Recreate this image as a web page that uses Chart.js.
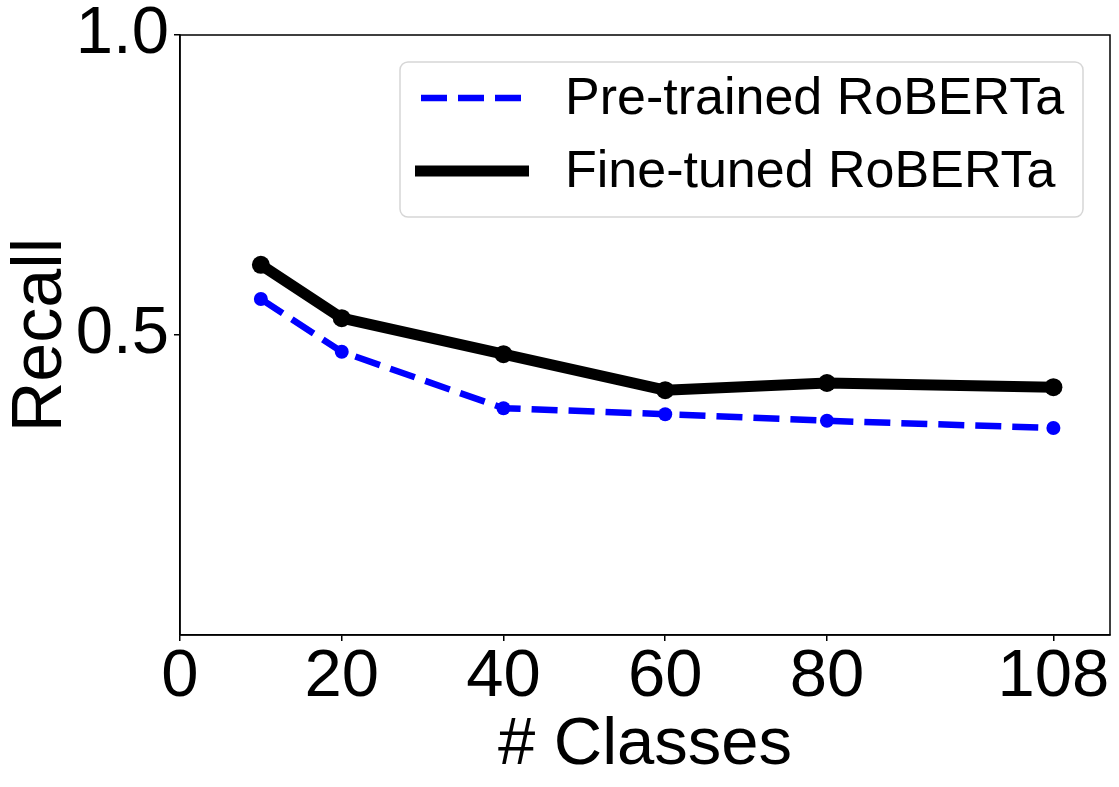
<!DOCTYPE html>
<html>
  <head>
    <script src="https://cdn.jsdelivr.net/npm/chart.js"></script>
    <style>
      body { margin: 0; background: white; }
      #wrap { width: 1119px; height: 787px; }
    </style>
  </head>

  <body>
    <div id="wrap"><canvas id="recall"></canvas></div>
  </body>

  <script>
    // values
    var classes = [10, 20, 40, 60, 80, 108];
    var pretrained = [0.56, 0.472, 0.378, 0.368, 0.357, 0.345];
    var finetuned = [0.617, 0.528, 0.468, 0.408, 0.42, 0.413];
    var x_ticks = [0, 20, 40, 60, 80, 108];
    var y_ticks = [0.5, 1.0];

    var font_family = "'Liberation Sans', Arial, sans-serif";

    function to_points(xs, ys) {
      return xs.map((x, i) => ({ x: x, y: ys[i] }));
    }

    // box around the plot (top and right spines)
    const frame = {
      id: "frame",
      afterDraw(chart) {
        const { ctx, chartArea: a } = chart;
        ctx.save();
        ctx.strokeStyle = "black";
        ctx.lineWidth = 1.5;
        ctx.strokeRect(a.left, a.top, a.right - a.left, a.bottom - a.top);
        ctx.restore();
      },
    };

    // matplotlib-like legend in the upper right
    const box_legend = {
      id: "box_legend",
      afterDraw(chart) {
        const ctx = chart.ctx;
        const x0 = 400, y0 = 62, w = 683, h = 155;
        ctx.save();
        ctx.beginPath();
        ctx.roundRect(x0, y0, w, h, 8);
        ctx.fillStyle = "rgba(255,255,255,0.8)";
        ctx.fill();
        ctx.strokeStyle = "#d6d6d6";
        ctx.lineWidth = 1.5;
        ctx.stroke();

        const rows = [98, 171];
        ctx.font = "52px " + font_family;
        ctx.textBaseline = "middle";
        chart.data.datasets.forEach((ds, i) => {
          const y = rows[i];
          ctx.beginPath();
          ctx.strokeStyle = ds.borderColor;
          ctx.lineWidth = ds.borderWidth;
          ctx.lineCap = "butt";
          ctx.setLineDash(ds.borderDash || []);
          if (ds.borderDash) {
            ctx.moveTo(421, y);
            ctx.lineTo(521, y);
          } else {
            ctx.moveTo(415, y);
            ctx.lineTo(529, y);
          }
          ctx.stroke();
          ctx.setLineDash([]);
          ctx.fillStyle = "black";
          ctx.fillText(ds.label, 565, y + 2);
        });
        ctx.restore();
      },
    };

    function no_pad(scale) {
      scale.paddingTop = 0;
      scale.paddingBottom = 0;
      scale.paddingLeft = 0;
      scale.paddingRight = 0;
    }

    const ctx = document.getElementById("recall").getContext("2d");

    const chart = new Chart(ctx, {
      type: "line",
      data: {
        datasets: [
          {
            label: "Pre-trained RoBERTa",
            data: to_points(classes, pretrained),
            borderColor: "#0000ff",
            backgroundColor: "#0000ff",
            borderWidth: 6.5,
            borderDash: [26, 11],
            pointRadius: 7,
            pointHoverRadius: 7,
            pointBorderWidth: 0,
            pointBackgroundColor: "#0000ff",
            tension: 0,
            fill: false,
          },
          {
            label: "Fine-tuned RoBERTa",
            data: to_points(classes, finetuned),
            borderColor: "#000000",
            backgroundColor: "#000000",
            borderWidth: 11,
            pointRadius: 9,
            pointHoverRadius: 9,
            pointBorderWidth: 0,
            pointBackgroundColor: "#000000",
            tension: 0,
            fill: false,
          },
        ],
      },
      options: {
        responsive: true,
        maintainAspectRatio: false,
        devicePixelRatio: 1,
        animation: false,
        layout: { padding: { top: 35, right: 9, left: 0, bottom: 0 } },
        scales: {
          x: {
            type: "linear",
            min: 0,
            max: 115,
            afterBuildTicks: (s) => {
              s.ticks = x_ticks.map((v) => ({ value: v }));
            },
            afterFit: (s) => {
              s.height = 152;
              no_pad(s);
            },
            ticks: {
              color: "black",
              padding: 3,
              maxRotation: 0,
              autoSkip: false,
              font: { family: font_family, size: 67, lineHeight: 1.0 },
            },
            grid: {
              drawOnChartArea: false,
              drawTicks: true,
              tickLength: 6,
              color: "black",
              lineWidth: 1.5,
            },
            border: { display: true, color: "black", width: 1.5 },
            title: {
              display: true,
              text: "# Classes",
              color: "black",
              padding: { top: 0, bottom: 1 },
              font: { family: font_family, size: 67, lineHeight: 1.2 },
            },
          },
          y: {
            min: 0,
            max: 1,
            afterBuildTicks: (s) => {
              s.ticks = y_ticks.map((v) => ({ value: v }));
            },
            afterFit: (s) => {
              s.width = 180;
              no_pad(s);
            },
            ticks: {
              color: "black",
              padding: 5,
              callback: (v) => v.toFixed(1),
              font: { family: font_family, size: 67, lineHeight: 1.0 },
            },
            grid: {
              drawOnChartArea: false,
              drawTicks: true,
              tickLength: 6,
              color: "black",
              lineWidth: 1.5,
            },
            border: { display: true, color: "black", width: 1.5 },
            title: {
              display: true,
              text: "Recall",
              color: "black",
              padding: { top: 0, bottom: 0 },
              font: { family: font_family, size: 70, lineHeight: 1.2 },
            },
          },
        },
        plugins: {
          legend: { display: false },
          tooltip: { enabled: false },
        },
      },
      plugins: [frame, box_legend],
    });
  </script>
</html>
